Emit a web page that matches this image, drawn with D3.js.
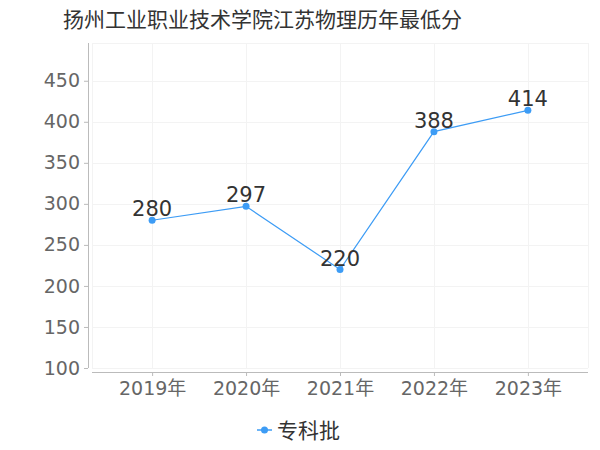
<!DOCTYPE html>
<html>
<head>
<meta charset="utf-8">
<script src="https://cdn.jsdelivr.net/npm/d3@7"></script>
<style>
	body { margin: 0; background: #fff; }
	text { font-family: "DejaVu Sans", "Noto Sans CJK SC", sans-serif; }
</style>
</head>
<body>
<div id="chart"></div>
<script>
const TITLE = "扬州工业职业技术学院江苏物理历年最低分";
const YEARS = ["2019年", "2020年", "2021年", "2022年", "2023年"];
const SCORES = [280, 297, 220, 388, 414];
const SERIES = "专科批";
const Y_TICKS = [100, 150, 200, 250, 300, 350, 400, 450];
const COLOR = "#3d9cf5";

const W = 600, H = 450;
const plotLeft = 92, plotRight = 588, plotTop = 43, plotBottom = 368;

const svg = d3.select("#chart").append("svg")
	.attr("width", W)
	.attr("height", H);

svg.append("text")
	.attr("x", 63)
	.attr("y", 27)
	.style("font-size", "21px")
	.style("fill", "#333")
	.style("font-family", "Noto Sans CJK SC")
	.text(TITLE);

const x = d3.scalePoint().domain(YEARS).range([plotLeft, plotRight]).padding(0.64);
const y = d3.scaleLinear().domain([100, 496]).range([plotBottom, plotTop]);

// grid
const grid = svg.append("g").attr("stroke", "#f3f3f3").attr("stroke-width", 1);
grid.selectAll(".h").data(Y_TICKS.concat([496])).enter().append("line")
	.attr("x1", plotLeft).attr("x2", plotRight)
	.attr("y1", (d) => Math.round(y(d)) + 0.5).attr("y2", (d) => Math.round(y(d)) + 0.5);
grid.selectAll(".v").data(YEARS).enter().append("line")
	.attr("x1", (d) => Math.round(x(d)) + 0.5).attr("x2", (d) => Math.round(x(d)) + 0.5)
	.attr("y1", plotTop).attr("y2", plotBottom);
grid.append("line").attr("x1", plotLeft + 0.5).attr("x2", plotLeft + 0.5).attr("y1", plotTop).attr("y2", plotBottom);
grid.append("line").attr("x1", plotRight + 0.5).attr("x2", plotRight + 0.5).attr("y1", plotTop).attr("y2", plotBottom);

// y axis
const yAxis = svg.append("g")
	.attr("transform", "translate(88,0)")
	.call(d3.axisLeft(y).tickValues(Y_TICKS).tickSize(4).tickPadding(4).tickSizeOuter(0));
yAxis.select(".domain").attr("stroke", "#bbb").attr("d", `M0.5,${plotTop}V${plotBottom}`);
yAxis.selectAll(".tick line").attr("stroke", "#bbb");
yAxis.selectAll(".tick text").style("font-size", "19px").style("fill", "#666");

// x axis
const xAxis = svg.append("g")
	.attr("transform", "translate(0,372)")
	.call(d3.axisBottom(x).tickSize(4).tickPadding(6).tickSizeOuter(0));
xAxis.select(".domain").attr("stroke", "#bbb").attr("d", `M${plotLeft},0.5H${plotRight}`);
xAxis.selectAll(".tick line").attr("stroke", "#bbb");
xAxis.selectAll(".tick text").style("font-size", "19px").style("fill", "#666");

// line
const line = d3.line().x((d, i) => x(YEARS[i])).y((d) => y(d));
svg.append("path")
	.datum(SCORES)
	.attr("fill", "none")
	.attr("stroke", COLOR)
	.attr("stroke-width", 1.2)
	.attr("d", line);

svg.selectAll(".pt").data(SCORES).enter().append("circle")
	.attr("cx", (d, i) => x(YEARS[i]))
	.attr("cy", (d) => y(d))
	.attr("r", 3.5)
	.attr("fill", COLOR);

svg.selectAll(".lbl").data(SCORES).enter().append("text")
	.attr("x", (d, i) => x(YEARS[i]))
	.attr("y", (d) => y(d) - 4)
	.attr("text-anchor", "middle")
	.style("font-size", "21px")
	.style("fill", "#333")
	.text((d) => d);

// legend
const lg = svg.append("g").attr("transform", "translate(257,430)");
lg.append("line").attr("x1", 0).attr("x2", 15).attr("y1", 0).attr("y2", 0)
	.attr("stroke", COLOR).attr("stroke-width", 1.5);
lg.append("circle").attr("cx", 7.5).attr("cy", 0).attr("r", 3.5).attr("fill", COLOR);
lg.append("text").attr("x", 20).attr("y", 8)
	.style("font-size", "21px").style("fill", "#333")
	.style("font-family", "Noto Sans CJK SC")
	.text(SERIES);
</script>
</body>
</html>
